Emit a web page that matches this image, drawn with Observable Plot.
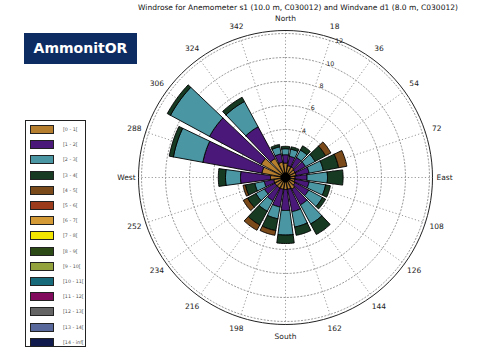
<!DOCTYPE html>
<html><head><meta charset="utf-8">
<script src="https://cdn.jsdelivr.net/npm/d3@7"></script>
<script src="https://cdn.jsdelivr.net/npm/@observablehq/plot@0.6"></script>
<style>
html,body{margin:0;padding:0;background:#fff;}
#wrap{position:relative;width:486px;height:358px;font-family:"DejaVu Sans",sans-serif;overflow:hidden;}
#title{position:absolute;left:0;width:596px;top:3px;text-align:center;font-size:7.5px;color:#111;}
#logo{position:absolute;left:24px;top:33px;width:113px;height:31px;background:#0c2c62;color:#fff;font-weight:bold;font-size:14px;line-height:31px;text-align:center;}
#legend{position:absolute;left:25px;top:120px;width:61px;height:227px;border:1px solid #222;box-sizing:border-box;}
.li{position:absolute;left:4px;height:9px;}
.sw{position:absolute;left:0;top:0;width:22px;height:7px;border:1px solid #222;}
.lt{position:absolute;left:33px;top:0px;font-size:4.8px;color:#555;white-space:nowrap;line-height:9px;}
svg{position:absolute;left:0;top:0;}
</style></head>
<body><div id="wrap"><div id="title">Windrose for Anemometer s1 (10.0 m, C030012) and Windvane d1 (8.0 m, C030012)</div><div id="logo">AmmonitOR</div><div id="legend"></div></div>
<script>
// ---- data ----
const directions = [0,18,36,54,72,90,108,126,144,162,180,198,216,234,252,270,288,306,324,342];
const directionLabels = ["North","18","36","54","72","East","108","126","144","162","South","198","216","234","252","West","288","306","324","342"];
const speedBins = ["[0 - 1[","[1 - 2[","[2 - 3[","[3 - 4[","[4 - 5[","[5 - 6[","[6 - 7[","[7 - 8[","[8 - 9[","[9 - 10[","[10 - 11[","[11 - 12[","[12 - 13[","[13 - 14[","[14 - inf["];
const binColors = ["#b57d2e","#4a1878","#4a96a2","#163a22","#7a4a1a","#9c3a1c","#d49a36","#f2e600","#2b4a16","#94a23e","#176a7a","#820a5c","#646464","#58689a","#101a4c"];
// frequency (%) per direction for each speed bin
const bin0_1 = [1.2,1.0,1.0,0.9,0.9,0.8,0.8,0.9,1.1,1.0,1.0,1.0,1.0,1.0,1.0,1.25,2.0,2.3,1.8,1.3];
const bin1_2 = [0.7,0.8,0.9,1.0,1.1,1.0,1.2,1.3,1.5,1.9,1.75,1.5,1.2,1.0,0.8,2.5,5.0,4.9,3.0,0.7];
const bin2_3 = [0.5,0.6,0.7,0.9,1.2,1.7,1.4,1.3,1.8,1.3,2.05,1.0,1.0,0.8,0.8,1.25,2.5,3.7,2.4,0.6];
const bin3_4 = [0.2,0.2,0.4,1.0,1.3,1.3,0.4,0.3,1.0,0.7,0.7,1.0,1.3,0.8,0.8,0.6,0.35,0.3,0.4,0.2];
const bin4_5 = [0,0,0,0.5,0.7,0,0,0,0,0,0,0.4,0.5,0.4,0.2,0,0,0,0,0];
const binSeries = [bin0_1, bin1_2, bin2_3, bin3_4, bin4_5];
const gridRadii = [2,4,6,8,10,12];
const radialTickLabels = [4,6,8,10,12];
const outerRadius = 12.25;

// ---- geometry helpers ----
const rad = d => d * Math.PI / 180;
const pt = (r, a) => ({x: r * Math.sin(rad(a)), y: r * Math.cos(rad(a))});
function wedge(id, a, r0, r1, half) {
  const pts = [], n = 10;
  for (let i = 0; i <= n; i++) pts.push({id, ...pt(r0, a - half + 2 * half * i / n)});
  for (let i = n; i >= 0; i--) pts.push({id, ...pt(r1, a - half + 2 * half * i / n)});
  pts.push({...pts[0]});
  return pts;
}
const circle = (r) => d3.range(0, 361, 3).map(a => ({r, ...pt(r, a)}));

const barMarks = [];
const cum = directions.map(() => 0);
binSeries.forEach((vals, b) => {
  const pts = [];
  vals.forEach((v, i) => {
    if (v > 0) pts.push(...wedge(b + "_" + i, directions[i], cum[i], cum[i] + v, 7.6));
    cum[i] += v;
  });
  if (pts.length) barMarks.push(Plot.line(pts, {x: "x", y: "y", z: "id", fill: binColors[b], stroke: "#000", strokeWidth: 0.9, strokeLinejoin: "miter"}));
});

const gridCircles = gridRadii.flatMap(circle);
const spokes = directions.map(a => ({a, ...pt(outerRadius, a)}));
const dirText = directions.map((a, i) => ({t: directionLabels[i], ...pt(13.25, a)}));
const rText = radialTickLabels.map(v => ({t: String(v), ...pt(v + 0.2, 21.5)}));

const chart = Plot.plot({
  width: 486, height: 358, margin: 0,
  x: {domain: [-285/12, 201/12], axis: null},
  y: {domain: [-181/12, 177/12], axis: null},
  style: {fontFamily: "DejaVu Sans", background: "transparent"},
  marks: [
    Plot.line(gridCircles, {x: "x", y: "y", z: "r", stroke: "#999", strokeWidth: 1, strokeDasharray: "1.2,2.2"}),
    Plot.link(spokes, {x1: 0, y1: 0, x2: "x", y2: "y", stroke: "#999", strokeWidth: 1, strokeDasharray: "1.2,2.2"}),
    ...barMarks,
    Plot.dot([{x: 0, y: 0}], {x: "x", y: "y", r: 5, fill: "#000"}),
    Plot.line(circle(outerRadius), {x: "x", y: "y", stroke: "#222", strokeWidth: 1}),
    Plot.text(dirText, {x: "x", y: "y", text: "t", fontSize: 7.5, fill: "#222"}),
    Plot.text(rText, {x: "x", y: "y", text: "t", fontSize: 6.3, fill: "#222"})
  ]
});
document.getElementById("wrap").prepend(chart);

// legend
const lg = document.getElementById("legend");
speedBins.forEach((s, i) => {
  const d = document.createElement("div");
  d.className = "li";
  d.style.top = (4 + i * 15.2) + "px";
  d.innerHTML = `<div class="sw" style="background:${binColors[i]}"></div><div class="lt">${s}</div>`;
  lg.appendChild(d);
});
</script></body></html>
